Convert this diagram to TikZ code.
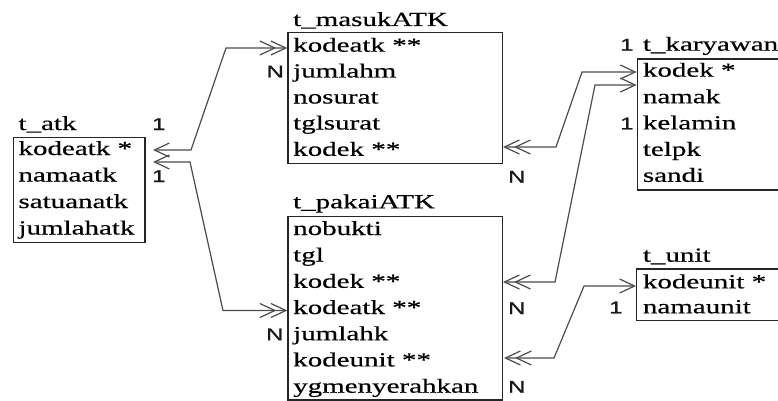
\documentclass[tikz,border=0pt]{standalone}
\usepackage{fontspec}
\setmainfont{Liberation Serif}[FakeStretch=1.45,FakeBold=0.5]
\newfontfamily\labfont{Liberation Sans}[FakeStretch=1.4,FakeBold=1.2]
\usetikzlibrary{arrows.meta}
\tikzset{
  onetip/.tip={Straight Barb[length=15pt,width=14pt]},
  manytip/.tip={Straight Barb[length=15pt,width=14pt,sep=-6pt] Straight Barb[length=15pt,width=14pt]},
}
\begin{document}
\begin{tikzpicture}[x=1pt,y=-1pt,
  tbl/.style={draw=black!85, line width=1.3pt, inner sep=0, anchor=north west},
  txt/.style={anchor=base west, inner sep=0, font=\fontsize{20}{24}\selectfont, text=black},
  card/.style={anchor=base west, inner sep=0, font=\labfont\fontsize{17}{19}\selectfont, text=black!90},
  conn/.style={draw=black!70, line width=1.2pt}]
\useasboundingbox (0,0) rectangle (778,401);
\clip (0,0) rectangle (778,401);

% ---- t_atk
\node[tbl, minimum width=131.5pt, minimum height=105pt] (atk) at (12.7,136.7) {};
\node[txt] (atkT) at (18.3,130) {t\_atk};
\node[txt] (atk1) at (18.3,155) {kodeatk *};
\node[txt] (atk2) at (18.3,181.5) {namaatk};
\node[txt] (atk3) at (18.3,208) {satuanatk};
\node[txt] (atk4) at (18.3,234.5) {jumlahatk};
\node[card] (l1a) at (152,130) {1};
\node[card] (l1b) at (152,182) {1};

% ---- t_masukATK
\node[tbl, minimum width=214.7pt, minimum height=131pt] (masuk) at (287.3,31.7) {};
\node[txt] (masukT) at (293,26) {t\_masukATK};
\node[txt] (m1) at (293,51.7) {kodeatk **};
\node[txt] (m2) at (293,77.5) {jumlahm};
\node[txt] (m3) at (293,103.5) {nosurat};
\node[txt] (m4) at (293,129.5) {tglsurat};
\node[txt] (m5) at (293,155.8) {kodek **};
\node[card] (lm) at (266.5,77.5) {N};
\node[card] (lm2) at (508,182.7) {N};

% ---- t_pakaiATK
\node[tbl, minimum width=214.7pt, minimum height=183.6pt] (pakai) at (287.3,215.7) {};
\node[txt] (pakaiT) at (293,208.3) {t\_pakaiATK};
\node[txt] (p1) at (293,235) {nobukti};
\node[txt] (p2) at (293,261.5) {tgl};
\node[txt] (p3) at (293,287.8) {kodek **};
\node[txt] (p4) at (293,314) {kodeatk **};
\node[txt] (p5) at (293,340.2) {jumlahk};
\node[txt] (p6) at (293,366.4) {kodeunit **};
\node[txt] (p7) at (293,392.7) {ygmenyerahkan};
\node[card] (lp) at (266,340.2) {N};
\node[card] (lp2) at (508,314) {N};
\node[card] (lp3) at (508,392.7) {N};

% ---- t_karyawan
\node[tbl, minimum width=170pt, minimum height=131pt] (kar) at (636.7,58.3) {};
\node[txt] (karT) at (642.7,50.7) {t\_karyawan};
\node[txt] (k1) at (642.7,76.7) {kodek *};
\node[txt] (k2) at (642.7,103.2) {namak};
\node[txt] (k3) at (642.7,129.4) {kelamin};
\node[txt] (k4) at (642.7,155.8) {telpk};
\node[txt] (k5) at (642.7,181.8) {sandi};
\node[card] (lk1) at (620,50.7) {1};
\node[card] (lk2) at (620,129.4) {1};

% ---- t_unit
\node[tbl, minimum width=170pt, minimum height=51.7pt] (unit) at (636,268.3) {};
\node[txt] (unitT) at (642.7,261.7) {t\_unit};
\node[txt] (u1) at (642.7,288.3) {kodeunit *};
\node[txt] (u2) at (642.7,313.3) {namaunit};
\node[card] (lu) at (609,313.3) {1};

% ---- connector points
\coordinate (c1a) at (153,150);  \coordinate (c1b) at (191,150);
\coordinate (c1c) at (226,48);   \coordinate (c1d) at (287.3,48);
\coordinate (c2a) at (153,162);  \coordinate (c2b) at (190,162);
\coordinate (c2c) at (223,310.5);\coordinate (c2d) at (287.3,310.5);
\coordinate (c3a) at (503,147);  \coordinate (c3b) at (556,147);
\coordinate (c3c) at (582,72);   \coordinate (c3d) at (636.7,72);
\coordinate (c4a) at (503,282);  \coordinate (c4b) at (555,282);
\coordinate (c4c) at (595,85);   \coordinate (c4d) at (636.7,85);
\coordinate (c5a) at (504,358);  \coordinate (c5b) at (554,358);
\coordinate (c5c) at (584,286);  \coordinate (c5d) at (636,286);

\draw[conn, onetip-manytip] (c1a) -- (c1b) -- (c1c) -- (c1d);
\draw[conn, onetip-manytip] (c2a) -- (c2b) -- (c2c) -- (c2d);
\draw[conn, manytip-onetip] (c3a) -- (c3b) -- (c3c) -- (c3d);
\draw[conn, manytip-onetip] (c4a) -- (c4b) -- (c4c) -- (c4d);
\draw[conn, manytip-onetip] (c5a) -- (c5b) -- (c5c) -- (c5d);
\end{tikzpicture}
\end{document}
